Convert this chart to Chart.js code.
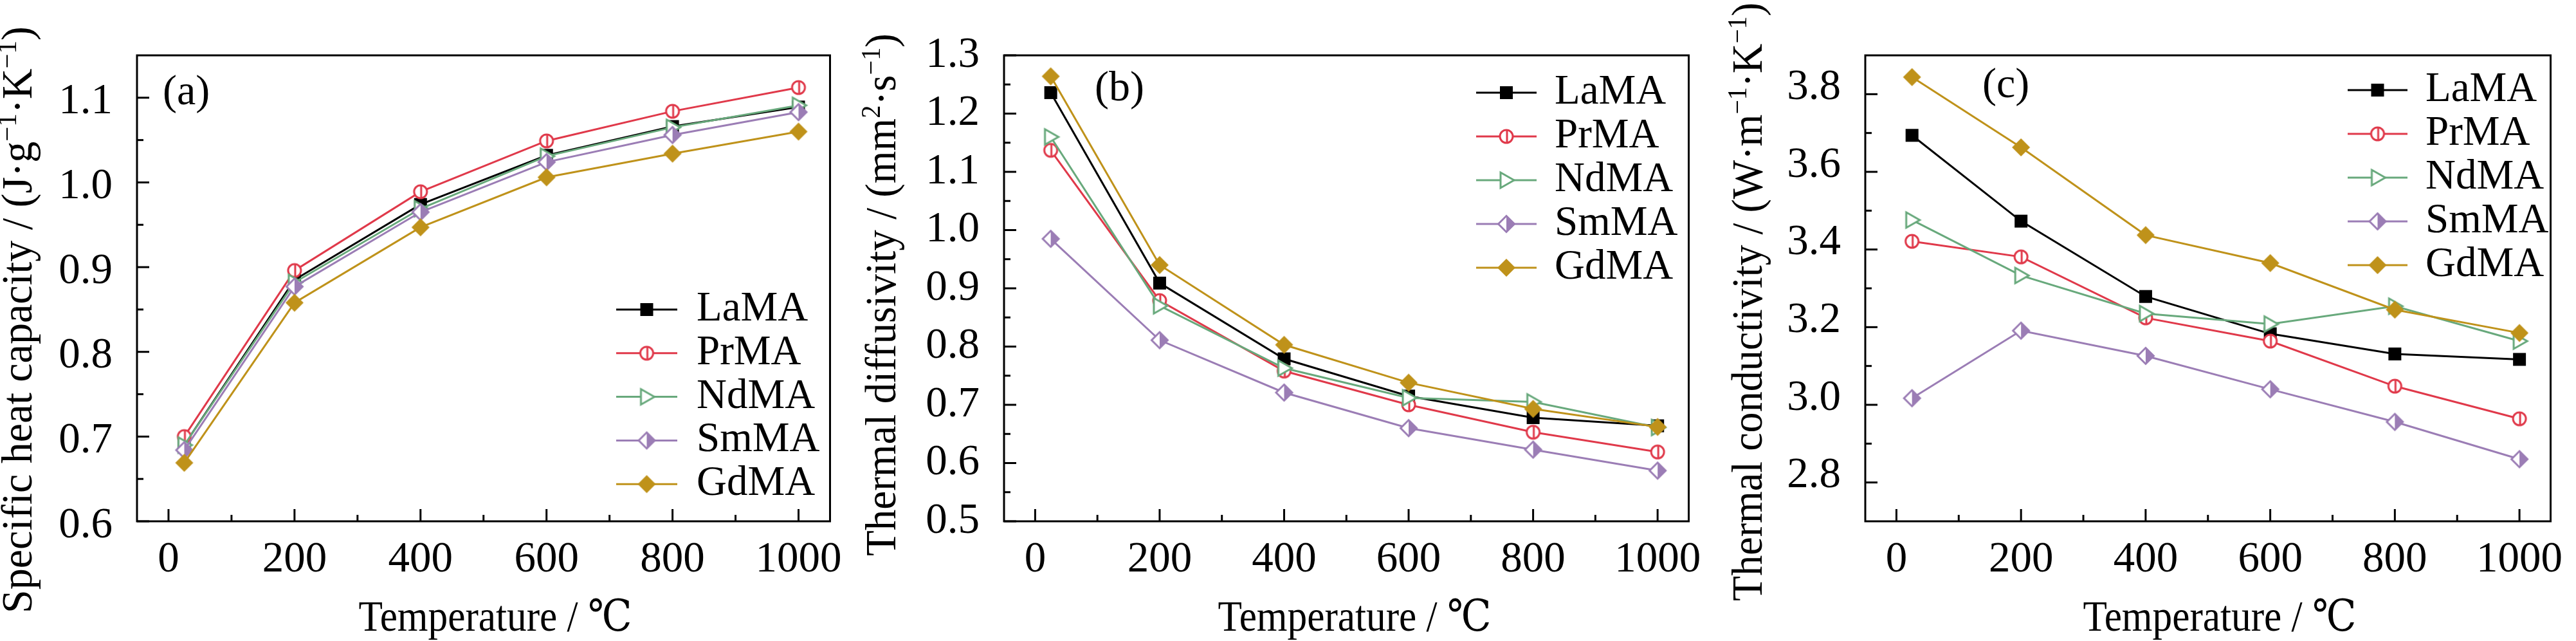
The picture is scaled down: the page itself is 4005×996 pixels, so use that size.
<!DOCTYPE html>
<html>
<head>
<meta charset="utf-8">
<script src="https://cdn.jsdelivr.net/npm/chart.js@4.4.1/dist/chart.umd.min.js"></script>
<style>
  html, body { margin: 0; padding: 0; background: #fff; }
  #wrap { position: relative; width: 4005px; height: 996px; overflow: hidden; background: #fff; }
  #wrap canvas { position: absolute; top: 0; }
</style>
</head>
<body>
<div id="wrap">
  <canvas id="heatChart" width="1330" height="996" style="left:0px"></canvas>
  <canvas id="diffChart" width="1335" height="996" style="left:1330px"></canvas>
  <canvas id="condChart" width="1340" height="996" style="left:2665px"></canvas>
</div>
<script>
// temperatures (°C) and sample names
const temperatures = [25, 200, 400, 600, 800, 1000];
const sampleNames = ['LaMA', 'PrMA', 'NdMA', 'SmMA', 'GdMA'];

// (a) specific heat capacity, J/(g K)
const heatLa = [0.690, 0.885, 0.974, 1.032, 1.066, 1.089];
const heatPr = [0.700, 0.896, 0.989, 1.049, 1.084, 1.112];
const heatNd = [0.690, 0.882, 0.969, 1.031, 1.065, 1.091];
const heatSm = [0.684, 0.877, 0.965, 1.024, 1.056, 1.083];
const heatGd = [0.669, 0.858, 0.947, 1.006, 1.034, 1.060];

// (b) thermal diffusivity, mm2/s
const diffLa = [1.236, 0.909, 0.779, 0.715, 0.678, 0.664];
const diffPr = [1.137, 0.879, 0.758, 0.700, 0.653, 0.619];
const diffNd = [1.160, 0.870, 0.763, 0.712, 0.705, 0.661];
const diffSm = [0.985, 0.811, 0.721, 0.660, 0.623, 0.587];
const diffGd = [1.264, 0.940, 0.803, 0.738, 0.693, 0.662];

// (c) thermal conductivity, W/(m K)
const condLa = [3.694, 3.473, 3.279, 3.183, 3.131, 3.117];
const condPr = [3.421, 3.381, 3.224, 3.164, 3.048, 2.964];
const condNd = [3.476, 3.333, 3.235, 3.208, 3.254, 3.164];
const condSm = [3.017, 3.191, 3.126, 3.040, 2.956, 2.860];
const condGd = [3.844, 3.663, 3.437, 3.365, 3.245, 3.185];

// tick labels
const tempTicks = [0, 200, 400, 600, 800, 1000];
const heatTicks = [0.6, 0.7, 0.8, 0.9, 1.0, 1.1];
const diffTicks = [0.5, 0.6, 0.7, 0.8, 0.9, 1.0, 1.1, 1.2, 1.3];
const condTicks = [2.8, 3.0, 3.2, 3.4, 3.6, 3.8];

// axis titles, pieces flagged 1 are superscripts
const tempTitle = 'Temperature / ℃';
const heatTitle = [['Specific heat capacity / (J·g', 0], ['−1', 1], ['·K', 0], ['−1', 1], [')', 0]];
const diffTitle = [['Thermal diffusivity / (mm', 0], ['2', 1], ['·s', 0], ['−1', 1], [')', 0]];
const condTitle = [['Thermal conductivity / (W·m', 0], ['−1', 1], ['·K', 0], ['−1', 1], [')', 0]];

const seriesColors = ['#000000', '#e0394a', '#68a97c', '#9b7db5', '#bf921a'];
const FONT = "'Liberation Serif', 'DejaVu Serif', serif";
const TITLE_SIZE = 68;

// rich text helpers (normal + superscript pieces)
function richWidth(ctx, parts, size) {
    let w = 0;
    parts.forEach(([t, sup]) => {
        ctx.font = (sup ? size * 0.62 : size) + 'px ' + FONT;
        w += ctx.measureText(t).width;
    });
    return w;
}
function drawRich(ctx, parts, size, x, y) {
    ctx.textAlign = 'left';
    ctx.textBaseline = 'alphabetic';
    let cx = x;
    parts.forEach(([t, sup]) => {
        ctx.font = (sup ? size * 0.62 : size) + 'px ' + FONT;
        ctx.fillText(t, cx, sup ? y - size * 0.36 : y);
        cx += ctx.measureText(t).width;
    });
}

// the figure's titles are set in a narrowed face: squeeze along the writing direction
const probe = document.createElement('canvas').getContext('2d');
probe.font = TITLE_SIZE + 'px ' + FONT;
const xSqueeze = 425 / probe.measureText(tempTitle).width;

// marker symbols drawn on small canvases, used as pointStyle
function makeMarker(kind, color) {
    const c = document.createElement('canvas');
    c.width = 36; c.height = 36;
    const g = c.getContext('2d');
    const m = 18;
    g.lineWidth = 3;
    g.strokeStyle = color;
    g.fillStyle = color;
    if (kind === 'square') {
        g.fillRect(m - 10, m - 10, 20, 20);
    } else if (kind === 'circle') {
        g.beginPath();
        g.arc(m, m, 10, 0, Math.PI * 2);
        g.fillStyle = '#fff';
        g.fill();
        g.stroke();
        g.beginPath();
        g.moveTo(m + 1, m - 10);
        g.lineTo(m + 1, m + 10);
        g.stroke();
    } else if (kind === 'triangle') {
        g.beginPath();
        g.moveTo(m - 9, m - 12);
        g.lineTo(m + 12, m);
        g.lineTo(m - 9, m + 12);
        g.closePath();
        g.fillStyle = '#fff';
        g.fill();
        g.stroke();
    } else if (kind === 'halfDiamond') {
        const r = 12.5;
        g.beginPath();
        g.moveTo(m, m - r); g.lineTo(m + r, m); g.lineTo(m, m + r); g.lineTo(m - r, m);
        g.closePath();
        g.fillStyle = '#fff';
        g.fill();
        g.stroke();
        g.beginPath();
        g.moveTo(m, m - r); g.lineTo(m + r, m); g.lineTo(m, m + r);
        g.closePath();
        g.fillStyle = color;
        g.fill();
    } else {
        const r = 14;
        g.beginPath();
        g.moveTo(m, m - r); g.lineTo(m + r, m); g.lineTo(m, m + r); g.lineTo(m - r, m);
        g.closePath();
        g.fill();
    }
    return c;
}

const markerKinds = ['square', 'circle', 'triangle', 'halfDiamond', 'diamond'];
const markers = markerKinds.map((k, i) => makeMarker(k, seriesColors[i]));

// per-panel placement of legend, letter and titles (canvas pixels)
const panelSetup = {
    heatChart: {
        key: { x: 958, y: 481, rowGap: 67.8, len: 95, gap: 30 },
        tag: { text: '(a)', x: 253, y: 145 },
        yTitle: { parts: heatTitle, x: 33, bottom: 953, length: 912 },
        xTitle: { x: 770, y: 980 }
    },
    diffChart: {
        key: { x: 965, y: 144, rowGap: 68, len: 94, gap: 28 },
        tag: { text: '(b)', x: 372, y: 139 },
        yTitle: { parts: diffTitle, x: 46, bottom: 864, length: 812 },
        xTitle: { x: 776, y: 980 }
    },
    condChart: {
        key: { x: 985, y: 140, rowGap: 68, len: 93, gap: 28 },
        tag: { text: '(c)', x: 417, y: 134 },
        yTitle: { parts: condTitle, x: 58, bottom: 934, length: 930 },
        xTitle: { x: 786, y: 980 }
    }
};

// box around the plot plus inward major/minor ticks on bottom and left
const axisFrame = {
    id: 'axisFrame',
    afterDatasetsDraw(chart) {
        const {ctx, chartArea: a, scales} = chart;
        ctx.save();
        ctx.strokeStyle = '#000';
        ctx.lineWidth = 3;
        const line = (x1, y1, x2, y2) => {
            ctx.beginPath(); ctx.moveTo(x1, y1); ctx.lineTo(x2, y2); ctx.stroke();
        };
        const minors = (scale) => {
            const t = scale.ticks.map(k => k.value);
            const step = t[1] - t[0];
            const out = [t[0] - step / 2];
            for (let i = 0; i < t.length - 1; i++) out.push((t[i] + t[i + 1]) / 2);
            out.push(t[t.length - 1] + step / 2);
            return out.filter(v => v > scale.min + 1e-9 && v < scale.max - 1e-9);
        };
        scales.x.ticks.forEach(k => {
            const p = scales.x.getPixelForValue(k.value);
            line(p, a.bottom, p, a.bottom - 19);
        });
        minors(scales.x).forEach(v => {
            const p = scales.x.getPixelForValue(v);
            line(p, a.bottom, p, a.bottom - 10);
        });
        scales.y.ticks.forEach(k => {
            const p = scales.y.getPixelForValue(k.value);
            line(a.left, p, a.left + 19, p);
        });
        minors(scales.y).forEach(v => {
            const p = scales.y.getPixelForValue(v);
            line(a.left, p, a.left + 10, p);
        });
        ctx.strokeRect(a.left, a.top, a.right - a.left, a.bottom - a.top);
        ctx.restore();
    }
};

// legend, panel letter and axis titles
const panelText = {
    id: 'panelText',
    afterDraw(chart) {
        const setup = panelSetup[chart.canvas.id];
        const ctx = chart.ctx;
        ctx.save();
        ctx.fillStyle = '#000';

        const k = setup.key;
        ctx.font = '65px ' + FONT;
        ctx.textBaseline = 'middle';
        ctx.textAlign = 'left';
        chart.data.datasets.forEach((ds, i) => {
            const y = k.y + i * k.rowGap;
            ctx.strokeStyle = ds.borderColor;
            ctx.lineWidth = 3;
            ctx.beginPath();
            ctx.moveTo(k.x, y);
            ctx.lineTo(k.x + k.len, y);
            ctx.stroke();
            const img = ds.pointStyle;
            ctx.drawImage(img, k.x + k.len / 2 - img.width / 2, y - img.height / 2);
            ctx.fillText(ds.label, k.x + k.len + k.gap, y);
        });

        ctx.font = '66px ' + FONT;
        ctx.fillText(setup.tag.text, setup.tag.x, setup.tag.y);

        ctx.save();
        ctx.translate(setup.xTitle.x, setup.xTitle.y);
        ctx.scale(xSqueeze, 1);
        ctx.font = TITLE_SIZE + 'px ' + FONT;
        ctx.textAlign = 'center';
        ctx.textBaseline = 'alphabetic';
        ctx.fillText(tempTitle, 0, 0);
        ctx.restore();

        const yt = setup.yTitle;
        const squeeze = yt.length / richWidth(ctx, yt.parts, TITLE_SIZE);
        ctx.translate(yt.x + TITLE_SIZE * 0.24, yt.bottom);
        ctx.rotate(-Math.PI / 2);
        ctx.scale(squeeze, 1);
        drawRich(ctx, yt.parts, TITLE_SIZE, 0, 0);
        ctx.restore();
    }
};

Chart.register(axisFrame, panelText);

function buildChart(id, cfg) {
    const ctx = document.getElementById(id).getContext('2d');
    return new Chart(ctx, {
        type: 'line',
        data: {
            datasets: cfg.series.map((vals, i) => ({
                label: sampleNames[i],
                data: temperatures.map((t, k) => ({x: t, y: vals[k]})),
                borderColor: seriesColors[i],
                backgroundColor: seriesColors[i],
                borderWidth: 3,
                pointStyle: markers[i],
                pointRadius: 14,
                tension: 0,
                fill: false,
                order: sampleNames.length - i
            }))
        },
        options: {
            responsive: false,
            animation: false,
            devicePixelRatio: 1,
            layout: { padding: { left: 0, right: cfg.padRight, top: 86, bottom: 0 } },
            plugins: {
                legend: { display: false },
                tooltip: { enabled: false }
            },
            scales: {
                x: {
                    type: 'linear',
                    min: -50,
                    max: 1050,
                    afterFit: s => { s.height = 186; },
                    afterBuildTicks: s => { s.ticks = tempTicks.map(v => ({value: v})); },
                    grid: { display: false, drawTicks: false },
                    border: { display: false },
                    ticks: {
                        padding: 20, color: '#000', autoSkip: false, maxRotation: 0,
                        font: { family: FONT, size: 67 },
                        callback: v => String(v)
                    }
                },
                y: {
                    type: 'linear',
                    min: cfg.yMin,
                    max: cfg.yMax,
                    afterFit: s => { s.width = cfg.axisWidth; },
                    afterBuildTicks: s => { s.ticks = cfg.yTicks.map(v => ({value: v})); },
                    grid: { display: false, drawTicks: false },
                    border: { display: false },
                    ticks: {
                        padding: 38, color: '#000', autoSkip: false,
                        labelOffset: cfg.labelShift,
                        font: { family: FONT, size: 67 },
                        callback: v => Number(v).toFixed(1)
                    }
                }
            }
        }
    });
}

buildChart('heatChart', {
    series: [heatLa, heatPr, heatNd, heatSm, heatGd],
    yMin: 0.6, yMax: 1.15, yTicks: heatTicks,
    axisWidth: 213, padRight: 33, labelShift: 7
});

buildChart('diffChart', {
    series: [diffLa, diffPr, diffNd, diffSm, diffGd],
    yMin: 0.5, yMax: 1.3, yTicks: diffTicks,
    axisWidth: 231, padRight: 19, labelShift: 0
});

buildChart('condChart', {
    series: [condLa, condPr, condNd, condSm, condGd],
    yMin: 2.7, yMax: 3.9, yTicks: condTicks,
    axisWidth: 235, padRight: 20, labelShift: -10
});
</script>
</body>
</html>
